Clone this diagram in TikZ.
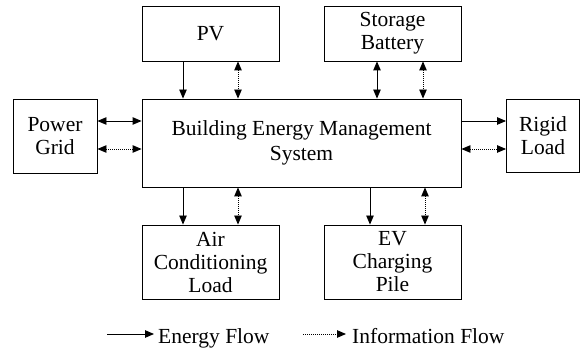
\documentclass[tikz,border=0pt]{standalone}
\usepackage{fontspec}
\setmainfont{Liberation Serif}
\usetikzlibrary{arrows.meta}
\begin{document}
\begin{tikzpicture}[x=1pt,y=-1pt,
  box/.style={draw, line width=0.9pt, inner sep=0pt, align=center,
    font=\fontsize{21.5}{23}\selectfont},
  ea/.style={line width=0.9pt, -{Triangle[length=9pt,width=7.5pt]}},
  eab/.style={line width=0.9pt, {Triangle[length=9pt,width=7.5pt]}-{Triangle[length=9pt,width=7.5pt]}},
  iab/.style={line width=0.9pt, dash pattern=on 1pt off 1pt, {Triangle[length=9pt,width=7.5pt]}-{Triangle[length=9pt,width=7.5pt]}},
  ia/.style={line width=0.9pt, dash pattern=on 1pt off 1pt, -{Triangle[length=9pt,width=7.5pt]}},
  lbl/.style={inner sep=0pt, anchor=base west, font=\fontsize{21.5}{23}\selectfont}]
\useasboundingbox (0,0) rectangle (581,352);
\node[box, minimum width=137pt, minimum height=55pt] (pv) at (210.5,33.5) {PV};
\node[box, minimum width=137pt, minimum height=55pt] (sb) at (392.5,33.5) {Storage\\Battery};
\node[box, minimum width=319pt, minimum height=88pt, font=\fontsize{21.5}{25}\selectfont] (bems) at (301.5,143) {Building Energy Management\\System};
\node[box, minimum width=84pt, minimum height=74pt] (pg) at (55,136) {Power\\Grid};
\node[box, minimum width=73pt, minimum height=73pt] (rl) at (543,135.5) {Rigid\\Load};
\node[box, minimum width=137pt, minimum height=74pt] (ac) at (210.5,262) {Air\\Conditioning\\Load};
\node[box, minimum width=137pt, minimum height=74pt] (ev) at (392.5,262) {EV\\Charging\\Pile};
% x positions
\coordinate (xa) at (183,0);
\coordinate (xb) at (238,0);
\coordinate (xc) at (377,0);
\coordinate (xd) at (423,0);
\coordinate (xe) at (370,0);
\coordinate (xf) at (425,0);
\coordinate (ya) at (0,121);
\coordinate (yb) at (0,149);
% PV
\draw[ea] (pv.south -| xa) -- (bems.north -| xa);
\draw[iab] (pv.south -| xb) -- (bems.north -| xb);
% Storage
\draw[eab] (sb.south -| xc) -- (bems.north -| xc);
\draw[iab] (sb.south -| xd) -- (bems.north -| xd);
% Power grid
\draw[eab] (pg.east |- ya) -- (bems.west |- ya);
\draw[iab] (pg.east |- yb) -- (bems.west |- yb);
% Rigid load
\draw[ea] (bems.east |- ya) -- (rl.west |- ya);
\draw[iab] (bems.east |- yb) -- (rl.west |- yb);
% AC
\draw[ea] (bems.south -| xa) -- (ac.north -| xa);
\draw[iab] (bems.south -| xb) -- (ac.north -| xb);
% EV
\draw[ea] (bems.south -| xe) -- (ev.north -| xe);
\draw[iab] (bems.south -| xf) -- (ev.north -| xf);
% legend
\coordinate (l1s) at (107,334);
\coordinate (l1e) at (154,334);
\coordinate (l2s) at (303,334);
\coordinate (l2e) at (346,334);
\draw[ea] (l1s) -- (l1e);
\draw[ia] (l2s) -- (l2e);
\node[lbl] (t1) at (158,344) {Energy Flow};
\node[lbl] (t2) at (352,344) {Information Flow};
\end{tikzpicture}
\end{document}
